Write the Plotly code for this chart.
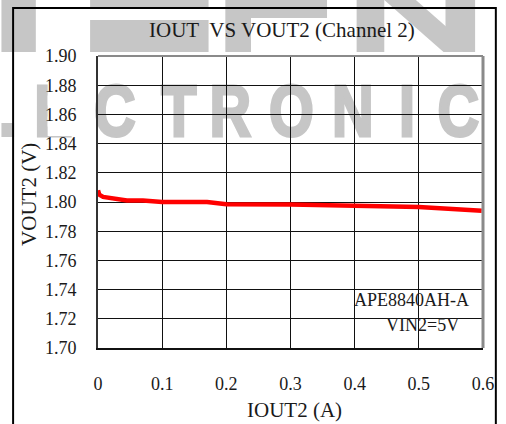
import base64
import plotly.graph_objects as go

# Data
iout = [0.000, 0.002, 0.008, 0.020, 0.045, 0.070, 0.100, 0.170, 0.200, 0.300, 0.400, 0.500, 0.598]
vout = [1.808, 1.805, 1.8035, 1.8025, 1.801, 1.801, 1.800, 1.800, 1.7985, 1.7983, 1.7975, 1.7965, 1.794]

x_ticks = [0, 0.1, 0.2, 0.3, 0.4, 0.5, 0.6]
x_labels = ["0", "0.1", "0.2", "0.3", "0.4", "0.5", "0.6"]
y_ticks = [1.70, 1.72, 1.74, 1.76, 1.78, 1.80, 1.82, 1.84, 1.86, 1.88, 1.90]

W, H = 506, 424
L, R, T, B = 98, 18, 56, 76
pw, ph = W - L - R, H - T - B

SERIF = "Liberation Serif, Times New Roman, serif"
INK = "#1a1a1a"

# background watermark + outer frame, drawn as an svg under the gridlines
wm = "#c6c6c6"
letters = [("E", 53), ("C", 115), ("T", 180), ("R", 232), ("O", 294), ("N", 356), ("I", 411), ("C", 463)]
svg = [f'<svg xmlns="http://www.w3.org/2000/svg" width="{W}" height="{H}" viewBox="0 0 {W} {H}" preserveAspectRatio="none">']
svg.append(f'<rect x="0" y="0" width="35" height="52" fill="{wm}"/>')
svg.append(f'<rect x="90" y="0" width="120" height="8" fill="{wm}"/>')
svg.append(f'<rect x="90" y="20" width="120" height="32" fill="{wm}"/>')
svg.append(f'<rect x="227" y="0" width="26" height="52" fill="{wm}"/>')
svg.append(f'<rect x="253" y="0" width="77" height="18" fill="{wm}"/>')
svg.append(f'<rect x="360" y="0" width="28" height="52" fill="{wm}"/>')
svg.append(f'<polygon points="388,0 420,0 480,52 448,52" fill="{wm}"/>')
svg.append(f'<rect x="450" y="0" width="30" height="52" fill="{wm}"/>')
svg.append(f'<rect x="0" y="123" width="13" height="14" fill="{wm}"/>')
for ch, cx in letters:
    svg.append(
        f'<text transform="translate({cx},136) scale(0.8,1)" text-anchor="middle" '
        f'font-family="Liberation Sans, Arial, sans-serif" font-weight="bold" font-size="73" '
        f'fill="{wm}" stroke="{wm}" stroke-width="3">{ch}</text>'
    )
svg.append('<rect x="47" y="74" width="35" height="62" fill="white"/>')
svg.append('<rect x="12" y="8" width="489" height="440" fill="none" stroke="black" stroke-width="2"/>')
svg.append('</svg>')
src = "data:image/svg+xml;base64," + base64.b64encode("".join(svg).encode()).decode()

fig = go.Figure()
fig.add_trace(go.Scatter(
    x=iout, y=vout, mode="lines",
    line=dict(color="#ff0000", width=4.5),
    showlegend=False, hoverinfo="skip",
))

fig.update_layout(
    width=W, height=H,
    margin=dict(l=L, r=R, t=T, b=B),
    paper_bgcolor="white",
    plot_bgcolor="rgba(0,0,0,0)",
    font=dict(family=SERIF, color=INK, size=18),
    images=[dict(
        source=src, xref="paper", yref="paper",
        x=-L / pw, y=(ph + T) / ph, sizex=W / pw, sizey=H / ph,
        xanchor="left", yanchor="top", sizing="stretch", layer="below",
    )],
    xaxis=dict(
        range=[0, 0.6], tickvals=x_ticks, ticktext=x_labels,
        showgrid=True, gridcolor="#111111", gridwidth=1, zeroline=False,
        showline=True, linecolor="#111111", linewidth=2,
        ticks="outside", ticklen=18, tickcolor="rgba(0,0,0,0)",
        tickfont=dict(size=18),
    ),
    yaxis=dict(
        range=[1.70, 1.90], tickvals=y_ticks, tickformat=".2f",
        showgrid=True, gridcolor="#111111", gridwidth=1, zeroline=False,
        showline=True, linecolor="#333333", linewidth=2,
        ticks="outside", ticklen=16, tickcolor="rgba(0,0,0,0)",
        tickfont=dict(size=18),
    ),
    shapes=[
        dict(type="line", xref="paper", yref="paper", x0=0, x1=1, y0=1, y1=1,
             line=dict(color="#8a8a8a", width=2), layer="above"),
        dict(type="line", xref="paper", yref="paper", x0=1, x1=1, y0=0, y1=1,
             line=dict(color="#8a8a8a", width=3), layer="above"),
    ],
    annotations=[
        dict(text="IOUT\u00a0 VS VOUT2 (Channel 2)", xref="paper", yref="paper",
             x=(284 - L) / pw, y=(H - B - 30) / ph, xanchor="center", yanchor="middle",
             showarrow=False, font=dict(size=21)),
        dict(text="IOUT2 (A)", xref="paper", yref="paper",
             x=(297 - L) / pw, y=(H - B - 410) / ph, xanchor="center", yanchor="middle",
             showarrow=False, font=dict(size=21)),
        dict(text="VOUT2 (V)", xref="paper", yref="paper", textangle=-90,
             x=(28 - L) / pw, y=(H - B - 194) / ph, xanchor="center", yanchor="middle",
             showarrow=False, font=dict(size=21)),
        dict(text="APE8840AH-A", xref="paper", yref="paper",
             x=(476 - L) / pw, y=(H - B - 300) / ph, xanchor="right", yanchor="middle",
             showarrow=False, font=dict(size=18)),
        dict(text="VIN2=5V", xref="paper", yref="paper",
             x=(466 - L) / pw, y=(H - B - 325) / ph, xanchor="right", yanchor="middle",
             showarrow=False, font=dict(size=18)),
    ],
)

fig.write_html("out.html", config={"displayModeBar": False},
               post_script="document.body.style.margin='0px';")
